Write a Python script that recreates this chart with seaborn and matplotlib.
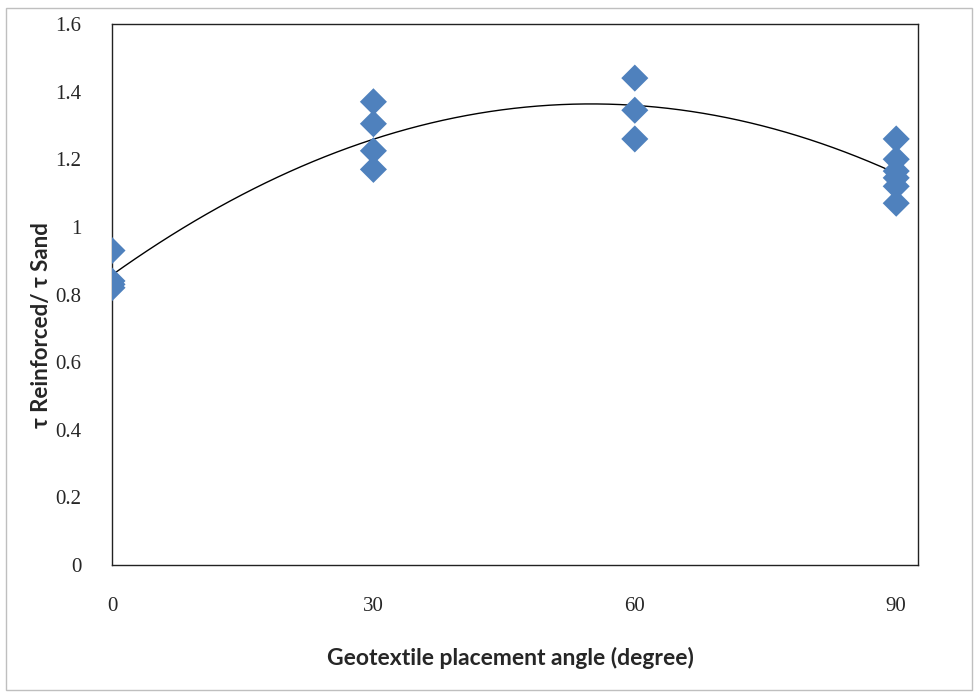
import numpy as np
import pandas as pd
import matplotlib
matplotlib.use("Agg")
import matplotlib.pyplot as plt
import seaborn as sns
from matplotlib.patches import Rectangle

angle_0 = [0, 0, 0, 0]
ratio_0 = [0.93, 0.84, 0.83, 0.82]
angle_30 = [30, 30, 30, 30]
ratio_30 = [1.37, 1.305, 1.225, 1.17]
angle_60 = [60, 60, 60]
ratio_60 = [1.44, 1.345, 1.26]
angle_90 = [90, 90, 90, 90, 90, 90]
ratio_90 = [1.26, 1.20, 1.165, 1.145, 1.12, 1.07]

x_ticks = [0, 30, 60, 90]
y_ticks = [0, 0.2, 0.4, 0.6, 0.8, 1, 1.2, 1.4, 1.6]
y_tick_labels = ["0", "0.2", "0.4", "0.6", "0.8", "1", "1.2", "1.4", "1.6"]

df = pd.DataFrame({
    "angle": angle_0 + angle_30 + angle_60 + angle_90,
    "ratio": ratio_0 + ratio_30 + ratio_60 + ratio_90,
})

sns.set_style("white")
fig = plt.figure(figsize=(9.8, 6.98), dpi=100)
ax = fig.add_axes([112 / 980, 1 - 565 / 698, (918 - 112) / 980, (565 - 24) / 698])

# second order trendline, like the spreadsheet one
coef = np.polyfit(df["angle"], df["ratio"], 2)
xs = np.linspace(0, 90, 200)
trend = pd.DataFrame({"angle": xs, "ratio": np.polyval(coef, xs)})
sns.lineplot(data=trend, x="angle", y="ratio", color="black", linewidth=1.0, ax=ax)

sns.scatterplot(data=df, x="angle", y="ratio", marker="D", s=190, color="#4F81BD",
                edgecolor="none", ax=ax, zorder=3)

ax.set_xlim(0, 92.5)
ax.set_ylim(0, 1.6)
ax.set_xticks(x_ticks)
ax.set_xticklabels([str(t) for t in x_ticks], family="Liberation Serif", fontsize=15)
ax.set_yticks(y_ticks)
ax.set_yticklabels(y_tick_labels, family="Liberation Serif", fontsize=15)
ax.tick_params(axis="x", length=0, pad=23)
ax.tick_params(axis="y", length=0, pad=22)

ax.set_xlabel("Geotextile placement angle (degree)", family="Lato", fontweight="bold",
              fontsize=16.5)
ax.xaxis.set_label_coords((510 - 112) / 806, -(658 - 565) / 541)
ax.xaxis.label.set_va("center")
ax.set_ylabel("τ Reinforced/ τ Sand", family="Lato", fontweight="bold", fontsize=16)
ax.yaxis.set_label_coords(-(112 - 42) / 806, (565 - 325) / 541)
ax.yaxis.label.set_va("center")

for side in ["top", "right", "bottom", "left"]:
    ax.spines[side].set_visible(True)
    ax.spines[side].set_color("#222222")
    ax.spines[side].set_linewidth(1.0)

# outer chart border
fig.patches.append(Rectangle((6 / 980, 1 - 690 / 698), 966 / 980, 682 / 698,
                             transform=fig.transFigure, fill=False,
                             edgecolor="#bfbfbf", linewidth=1.0))

fig.savefig("out.png", dpi=100)
